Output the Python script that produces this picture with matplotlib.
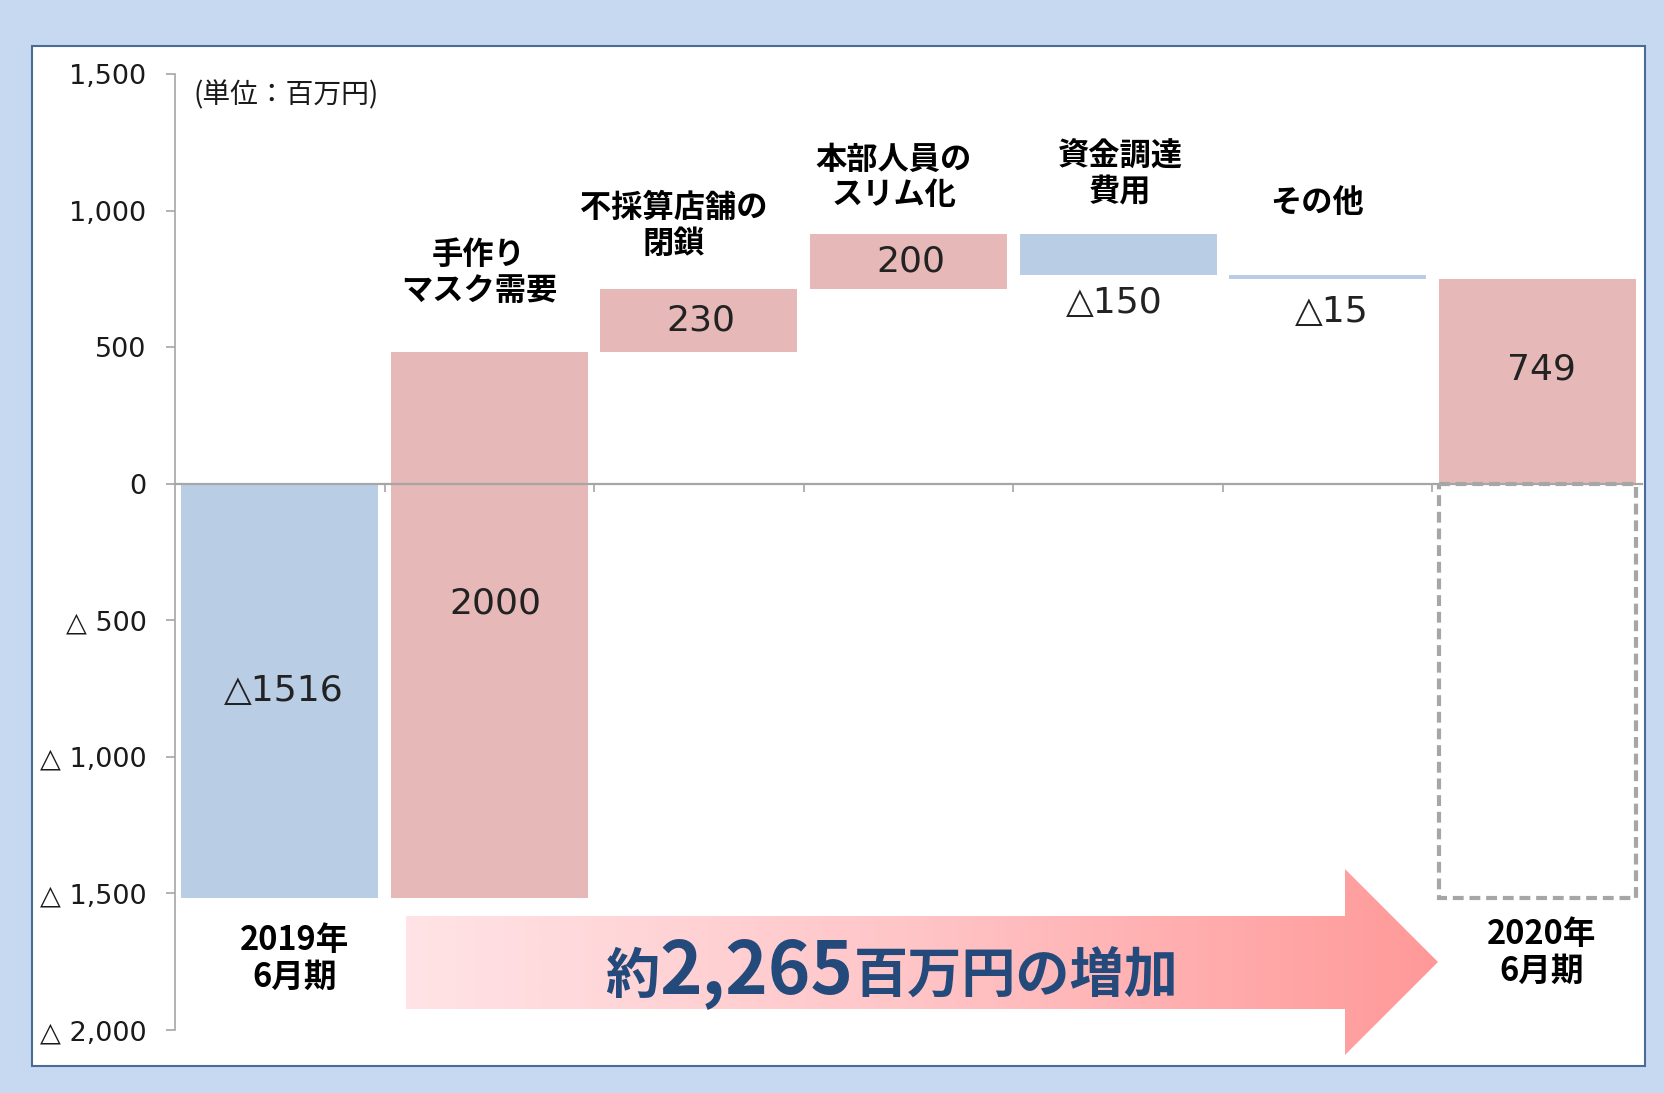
import numpy as np
import matplotlib
matplotlib.use('Agg')
import matplotlib.pyplot as plt
from matplotlib.patches import Rectangle, Polygon
from matplotlib.colors import LinearSegmentedColormap

plt.rcParams['font.family'] = ['Noto Sans CJK JP', 'DejaVu Sans']
NUM_FONT = ['DejaVu Sans', 'Noto Sans CJK JP']

# data
categories = ['2019年\n6月期', '手作り\nマスク需要', '不採算店舗の\n閉鎖', '本部人員の\nスリム化',
              '資金調達\n費用', 'その他', '2020年\n6月期']
start_value = -1516
changes = [2000, 230, 200, -150, -15]
end_value = 749
value_labels = ['△1516', '2000', '230', '200', '△150', '△15', '749']
yticks = [1500, 1000, 500, 0, -500, -1000, -1500, -2000]
ytick_labels = ['1,500', '1,000', '500', '0', '△ 500', '△ 1,000', '△ 1,500', '△ 2,000']
unit_label = '(単位：百万円)'
summary_parts = ['約', '2,265', '百万円の増加']

# label placement (data units)
cat_label_x = [0.07, 0.95, 1.88, 2.93, 4.01, 4.95, 6.02]
cat_label_y = [-1740, 773, 945, 1121, 1131, 1029, -1718]
cat_label_size = [23.5, 22.5, 22.5, 22.5, 22.5, 22.5, 23.5]
val_label_x = [0.02, 1.03, 2.01, 3.01, 3.98, 5.02, 6.02]
val_label_y = [-758, -440, 598, 812, 663, 629, 418]

PINK = '#E6B9B8'
BLUE = '#B9CDE5'
GRAY = '#A6A6A6'

levels = np.cumsum([start_value] + changes)
heights = [start_value] + changes + [end_value]
bottoms = [0] + list(levels[:-1]) + [0]
colors = [PINK if h > 0 else BLUE for h in heights]
x = np.arange(len(categories))

fig = plt.figure(figsize=(16.65, 10.93), dpi=100)
fig.patch.set_facecolor('#C6D9F0')
panel = Rectangle((32 / 1665, 1 - 1066 / 1093), (1645 - 32) / 1665, (1066 - 46) / 1093,
                  transform=fig.transFigure, facecolor='white', edgecolor='#4A6A98',
                  linewidth=1.5, zorder=-1)
fig.add_artist(panel)

ax = fig.add_axes([175 / 1665, 1 - 1030 / 1093, (1642 - 175) / 1665, (1030 - 74) / 1093])
ax.set_facecolor('none')

ax.bar(x, heights, bottom=bottoms, width=0.94, color=colors, zorder=1)
# outline of the starting level under the final bar
ax.bar(x[-1], start_value, width=0.94, fill=False, edgecolor=GRAY, linewidth=3,
       linestyle=(0, (2.6, 1.4)), zorder=1)

ax.set_xlim(-0.5, len(categories) - 0.5)
ax.set_ylim(-2000, 1500)

for s in ['top', 'right']:
    ax.spines[s].set_visible(False)
ax.spines['bottom'].set_position(('data', 0))
ax.spines['bottom'].set_color(GRAY)
ax.spines['bottom'].set_linewidth(1.6)
ax.spines['left'].set_color(GRAY)
ax.spines['left'].set_linewidth(1.2)

ax.set_xticks(np.arange(0.5, len(categories) - 1, 1.0))
ax.tick_params(axis='x', direction='out', length=6, width=1.2, color=GRAY, labelbottom=False)
ax.set_yticks(yticks)
ax.set_yticklabels(ytick_labels)
ax.tick_params(axis='y', direction='out', length=6.5, width=1.2, color=GRAY, pad=14,
               labelsize=19.5, labelcolor='#1a1a1a')
for lbl in ax.get_yticklabels():
    lbl.set_family(NUM_FONT)

ax.text(-0.41, 1420, unit_label, fontsize=20, va='center', ha='left', color='#1a1a1a')

for cx, cy, txt, fs in zip(cat_label_x, cat_label_y, categories, cat_label_size):
    ax.text(cx, cy, txt, ha='center', va='center', fontsize=fs, fontweight='bold',
            color='black', linespacing=1.15, multialignment='center')

for vx, vy, txt in zip(val_label_x, val_label_y, value_labels):
    ax.text(vx, vy, txt, ha='center', va='center', fontsize=26, color='#222222',
            family=NUM_FONT)

# overlay in pixel units for the arrow
ov = fig.add_axes([0, 0, 1, 1], zorder=2)
ov.set_facecolor('none')
ov.axis('off')
arrow_pts = [(406, 916), (1345, 916), (1345, 869), (1438, 962), (1345, 1055),
             (1345, 1009), (406, 1009)]
arrow = Polygon(arrow_pts, closed=True, facecolor='none', edgecolor='none')
ov.add_patch(arrow)
cmap = LinearSegmentedColormap.from_list('arr', ['#FFE3E6', '#FFC4C6', '#FF9999'])
grad = np.linspace(0, 1, 256).reshape(1, -1)
im = ov.imshow(grad, extent=[406, 1438, 1055, 869], cmap=cmap, aspect='auto',
               interpolation='bilinear')
im.set_clip_path(arrow)
ov.set_xlim(0, 1665)
ov.set_ylim(1093, 0)

renderer = fig.canvas.get_renderer()
sizes = [39, 52, 39]
texts = []
widths = []
for part, fs in zip(summary_parts, sizes):
    t = ov.text(0, 993, part, fontsize=fs, fontweight='bold', color='#244A7C',
                ha='left', va='baseline')
    texts.append(t)
    widths.append(t.get_window_extent(renderer).width)
cur = 892 - sum(widths) / 2
for t, w in zip(texts, widths):
    t.set_x(cur)
    cur += w

fig.savefig('out.png', dpi=100, facecolor=fig.get_facecolor())
